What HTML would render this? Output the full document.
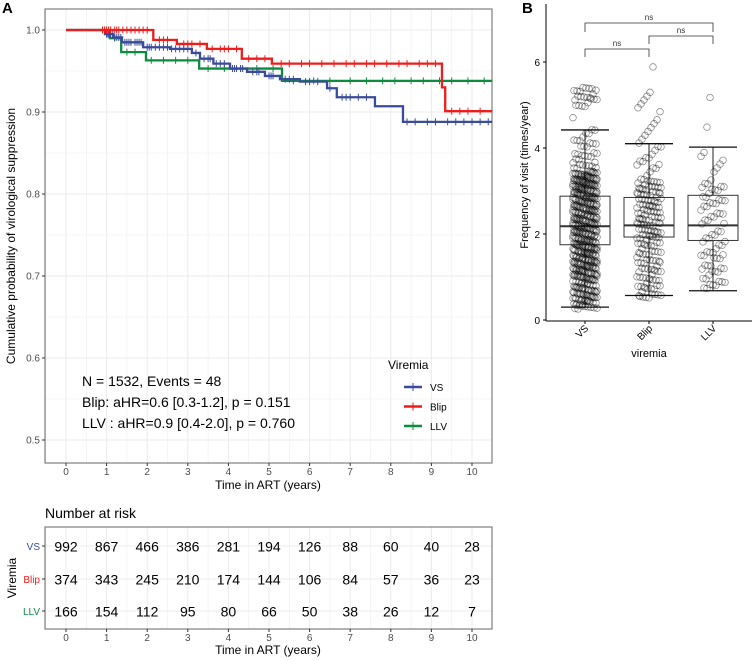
<!DOCTYPE html>
<html><head><meta charset="utf-8"><style>
body{margin:0;background:#fff;}
svg{display:block;font-family:"Liberation Sans",Arial,sans-serif;}
</style></head><body>
<svg id="fig" width="753" height="661" viewBox="0 0 753 661">
<text x="2" y="13" font-size="15" font-weight="bold">A</text>
<text x="522" y="13" font-size="15" font-weight="bold">B</text>
<g id="km"></g>
<g id="risk"></g>
<g id="box"></g>
</svg>
<script>
const NS="http://www.w3.org/2000/svg";
function mk(parent,tag,attrs,txt){const e=document.createElementNS(NS,tag);for(const k in attrs)e.setAttribute(k,attrs[k]);if(txt!==undefined)e.textContent=txt;parent.appendChild(e);return e;}

// ---- KM data ----
const groups=["VS","Blip","LLV"];
const groupColors=["#3b4b9b","#ee1c1c","#0d8c3e"];
const vsTimes=[0,0.96,1.16,1.38,1.9,2.56,3.1,3.3,3.63,4.04,4.46,4.9,5.27,5.76,6.43,6.67,7.61,8.3,10.5];
const vsSurv=[1,0.995,0.991,0.985,0.979,0.977,0.972,0.965,0.959,0.953,0.949,0.944,0.940,0.937,0.929,0.918,0.907,0.888,0.888];
const blipTimes=[0,2.15,2.73,3.47,4.33,5.07,9.26,9.34,10.5];
const blipSurv=[1,0.988,0.983,0.977,0.965,0.959,0.930,0.901,0.901];
const llvTimes=[0,1.08,1.36,1.97,3.28,5.32,10.5];
const llvSurv=[1,0.99,0.973,0.963,0.953,0.938,0.938];
const vsCensor=[1.0,1.03,1.05,1.08,1.1,1.15,1.2,1.25,1.3,1.35,1.45,1.5,1.55,1.6,1.7,1.75,1.8,1.85,2.0,2.05,2.1,2.2,2.3,2.4,2.5,2.6,2.7,2.8,2.9,3.0,3.2,3.4,3.5,3.55,3.7,3.8,3.9,4.1,4.15,4.2,4.3,4.35,4.6,4.7,4.75,5.0,5.05,5.1,5.4,5.5,5.6,5.9,6.0,6.2,6.5,6.8,6.9,7.0,7.2,7.4,8.4,8.6,8.9,9.1,9.4,9.6,9.8,10.0,10.2,10.4];
const blipCensor=[0.9,0.95,1.0,1.05,1.1,1.2,1.25,1.3,1.4,1.5,1.6,1.7,1.8,1.9,2.0,2.3,2.4,2.5,2.9,3.0,3.1,3.3,3.6,3.8,3.9,4.0,4.2,4.5,4.7,4.9,5.3,5.5,5.8,6.0,6.3,6.6,6.9,7.1,7.4,7.6,7.9,8.2,8.4,8.7,8.9,9.1,9.5,9.7,9.9,10.2];
const llvCensor=[1.2,1.5,1.7,2.1,2.4,2.7,3.0,3.5,3.9,4.3,4.7,5.1,5.6,6.1,6.5,7.0,7.4,7.8,8.1,8.5,8.8,9.2,9.5,9.9,10.3];
const xTicks=[0,1,2,3,4,5,6,7,8,9,10];
const yTicks=[0.5,0.6,0.7,0.8,0.9,1.0];
const riskVS=[992,867,466,386,281,194,126,88,60,40,28];
const riskBlip=[374,343,245,210,174,144,106,84,57,36,23];
const riskLLV=[166,154,112,95,80,66,50,38,26,12,7];

// ---- Box data ----
const boxCats=["VS","Blip","LLV"];
const boxLow=[0.3,0.57,0.68];
const boxQ1=[1.75,1.93,1.85];
const boxMed=[2.18,2.2,2.2];
const boxQ3=[2.88,2.85,2.9];
const boxHigh=[4.42,4.1,4.02];
const boxYTicks=[0,2,4,6];
// point counts per 0.1 bin, starting at binStart
const binStart=[0.3,0.5,0.7];
const countsVS=[10,12,12,12,12,12,12,14,16,16,16,16,16,16,16,16,16,16,16,16,16,16,16,16,16,16,16,18,18,18,18,16,5,5,4,4,4,3,3,3,3,2,0,0,1,0,0,4,5,5,5,4];
const countsBlip=[4,5,5,5,5,5,5,5,5,5,5,5,5,5,7,7,7,7,7,7,7,7,7,7,7,7,8,6,2,2,2,2,2,2,2,2,1,1,1,1,1,1,1,1,1,1,1,1,1,0,0,0,0,0,1];
const countsLLV=[2,3,3,3,3,3,3,3,3,3,3,2,2,2,2,2,2,2,3,3,3,3,3,3,3,2,1,1,1,1,1,1,1,0,0,0,0,0,1,0,0,0,0,0,0,1];
const countsAll=[countsVS,countsBlip,countsLLV];

// ---- KM axes ----
const kmL=45,kmR=492,kmT=9,kmB=463;
const kx=t=>66+t*40.6;
const ky=s=>30+(1-s)*820;
const km=document.getElementById('km');
mk(km,'rect',{x:kmL,y:kmT,width:kmR-kmL,height:kmB-kmT,fill:'#fff'});
for(let t=-0.5;t<=10.5;t+=0.5){mk(km,'line',{x1:kx(t),x2:kx(t),y1:kmT,y2:kmB,stroke:'#ebebeb','stroke-width':Number.isInteger(t)?1:0.5});}
for(let s=0.45;s<=1.05;s+=0.05){const v=Math.round(s*100)/100;if(ky(v)<kmT||ky(v)>kmB)continue;mk(km,'line',{x1:kmL,x2:kmR,y1:ky(v),y2:ky(v),stroke:'#ebebeb','stroke-width':Math.round(v*100)%10===0?1:0.5});}
mk(km,'rect',{x:kmL,y:kmT,width:kmR-kmL,height:kmB-kmT,fill:'none',stroke:'#7f7f7f','stroke-width':1.2});
yTicks.forEach(v=>{
 mk(km,'line',{x1:kmL-3,x2:kmL,y1:ky(v),y2:ky(v),stroke:'#333'});
 const t=mk(km,'text',{x:kmL-5,y:ky(v)+3.5,'text-anchor':'end','font-size':10,fill:'#4d4d4d'},v.toFixed(1));
 
 
});
xTicks.forEach(v=>{
 mk(km,'line',{x1:kx(v),x2:kx(v),y1:kmB,y2:kmB+3,stroke:'#333'});
 const t=mk(km,'text',{x:kx(v),y:kmB+12,'text-anchor':'middle','font-size':10,fill:'#4d4d4d'},v);
 
 
});
let tt=mk(km,'text',{x:268,y:489,'text-anchor':'middle','font-size':12},'Time in ART (years)');

tt=mk(km,'text',{x:0,y:0,'text-anchor':'middle','font-size':12,transform:'translate(15,236) rotate(-90)'},'Cumulative probability of virological suppression');


function survAt(times,surv,t){let s=surv[0];for(let i=0;i<times.length;i++){if(times[i]<=t)s=surv[i];}return s;}
const series=[[vsTimes,vsSurv,vsCensor],[blipTimes,blipSurv,blipCensor],[llvTimes,llvSurv,llvCensor]];
[2,0,1].forEach(gi=>{
 const [T,S,C]=series[gi];
 let d=`M${kx(T[0])},${ky(S[0])}`;
 for(let i=1;i<T.length;i++){d+=` H${kx(T[i])} V${ky(S[i])}`;}
 const p=mk(km,'path',{d:d,fill:'none',stroke:groupColors[gi],'stroke-width':2.3});
 
 
 C.forEach(c=>{const y=ky(survAt(T,S,c));const m=mk(km,'line',{x1:kx(c),x2:kx(c),y1:y-3.5,y2:y+3.5,stroke:groupColors[gi],'stroke-width':1});
  
  });
});
const ann=["N = 1532, Events = 48","Blip: aHR=0.6 [0.3-1.2], p = 0.151","LLV : aHR=0.9 [0.4-2.0], p = 0.760"];
ann.forEach((a,i)=>{const t=mk(km,'text',{x:82,y:386+i*21,'font-size':14},a);
 });
tt=mk(km,'text',{x:388,y:369,'font-size':12},'Viremia');

groups.forEach((g,i)=>{const y=387+i*19.5;
 const lg=mk(km,'g',{});
 
 
 mk(lg,'line',{x1:404,x2:422,y1:y,y2:y,stroke:groupColors[i],'stroke-width':2.5});
 mk(lg,'line',{x1:413,x2:413,y1:y-4,y2:y+4,stroke:groupColors[i],'stroke-width':1});
 mk(lg,'text',{x:430,y:y+4,'font-size':10},g);
});

// ---- risk table ----
const rk=document.getElementById('risk');
const rT=527,rB=629;
tt=mk(rk,'text',{x:45,y:518,'font-size':14},'Number at risk');

for(let t=-0.5;t<=10.5;t+=0.5)mk(rk,'line',{x1:kx(t),x2:kx(t),y1:rT,y2:rB,stroke:'#ebebeb','stroke-width':Number.isInteger(t)?1:0.5});
const rowY=[546,579,611];
rowY.forEach(y=>mk(rk,'line',{x1:kmL,x2:kmR,y1:y,y2:y,stroke:'#ebebeb'}));
mk(rk,'rect',{x:kmL,y:rT,width:kmR-kmL,height:rB-rT,fill:'none',stroke:'#7f7f7f','stroke-width':1.2});
const riskRows=[riskVS,riskBlip,riskLLV];
riskRows.forEach((row,ri)=>{
 const lab=mk(rk,'text',{x:40,y:rowY[ri]+4,'text-anchor':'end','font-size':10,fill:groupColors[ri]},groups[ri]);
 
 mk(rk,'line',{x1:kmL-3,x2:kmL,y1:rowY[ri],y2:rowY[ri],stroke:'#333'});
 row.forEach((v,ci)=>{const t=mk(rk,'text',{x:kx(xTicks[ci]),y:rowY[ri]+5.5,'text-anchor':'middle','font-size':14},v);
  });
});
xTicks.forEach(v=>{mk(rk,'line',{x1:kx(v),x2:kx(v),y1:rB,y2:rB+3,stroke:'#333'});
 const t=mk(rk,'text',{x:kx(v),y:rB+12,'text-anchor':'middle','font-size':10,fill:'#4d4d4d'},v);
 });
tt=mk(rk,'text',{x:268,y:654,'text-anchor':'middle','font-size':12},'Time in ART (years)');

tt=mk(rk,'text',{x:0,y:0,'text-anchor':'middle','font-size':12,transform:'translate(16,578) rotate(-90)'},'Viremia');


// ---- boxplot ----
const bx=document.getElementById('box');
const bX=i=>585+i*64;
const bY=v=>320-v*43;
const axL=546,axB=321;
boxCats.forEach((c,i)=>{
 const cx=bX(i);
 mk(bx,'line',{x1:cx,x2:cx,y1:bY(boxHigh[i]),y2:bY(boxLow[i]),stroke:'#222','stroke-width':1});
 mk(bx,'line',{x1:cx-24,x2:cx+24,y1:bY(boxHigh[i]),y2:bY(boxHigh[i]),stroke:'#111','stroke-width':1.3});
 mk(bx,'line',{x1:cx-24,x2:cx+24,y1:bY(boxLow[i]),y2:bY(boxLow[i]),stroke:'#111','stroke-width':1.3});
 const r=mk(bx,'rect',{x:cx-25,y:bY(boxQ3[i]),width:50,height:bY(boxQ1[i])-bY(boxQ3[i]),fill:'#fff',stroke:'#333','stroke-width':1});
 
 
 mk(bx,'line',{x1:cx-25,x2:cx+25,y1:bY(boxMed[i]),y2:bY(boxMed[i]),stroke:'#333','stroke-width':2});
 let k=0;
 countsAll[i].forEach((n,b)=>{
  const v0=binStart[i]+b*0.1;
  for(let j=0;j<n;j++){
   k++;
   const jit=(((k*53)%25)-12)*1.0;
   const dv=(((k*29)%10)/10-0.45)*0.1;
   const p=mk(bx,'circle',{cx:cx+jit,cy:bY(v0+dv),r:3.3,fill:'none',stroke:'rgba(0,0,0,0.5)','stroke-width':0.7});
   
   
  }
 });
});
mk(bx,'line',{x1:axL,x2:axL,y1:4,y2:axB,stroke:'#000','stroke-width':1});
mk(bx,'line',{x1:axL,x2:752,y1:axB,y2:axB,stroke:'#000','stroke-width':1});
boxYTicks.forEach(v=>{mk(bx,'line',{x1:axL-3,x2:axL,y1:bY(v),y2:bY(v),stroke:'#000'});
 const t=mk(bx,'text',{x:axL-6,y:bY(v)+4,'text-anchor':'end','font-size':10},v);
 });
boxCats.forEach((c,i)=>{mk(bx,'line',{x1:bX(i),x2:bX(i),y1:axB,y2:axB+3,stroke:'#000'});
 const t=mk(bx,'text',{x:0,y:0,'text-anchor':'end','font-size':10,transform:`translate(${bX(i)+4},${axB+8}) rotate(-45)`},c);
 });
tt=mk(bx,'text',{x:649,y:357,'text-anchor':'middle','font-size':11},'viremia');

tt=mk(bx,'text',{x:0,y:0,'text-anchor':'middle','font-size':11,transform:'translate(528,175) rotate(-90)'},'Frequency of visit (times/year)');

const brackets=[[0,2,23,32],[1,2,36,44],[0,1,49,57]];
brackets.forEach(b=>{const x1=bX(b[0]),x2=bX(b[1]);
 const g=mk(bx,'g',{});
 
 
 mk(g,'path',{d:`M${x1},${b[3]} V${b[2]} H${x2} V${b[3]}`,fill:'none',stroke:'#333','stroke-width':0.8});
 mk(g,'text',{x:(x1+x2)/2,y:b[2]-3,'text-anchor':'middle','font-size':8,fill:'#333'},'ns');
});
</script>
</body></html>
